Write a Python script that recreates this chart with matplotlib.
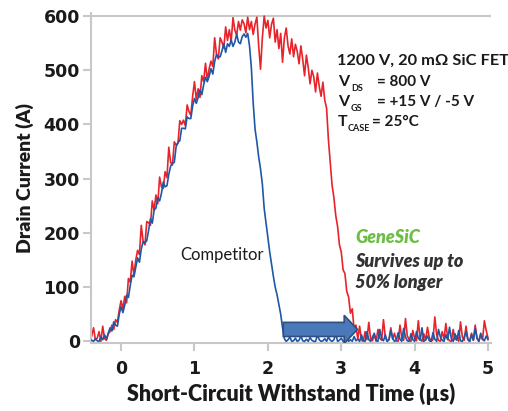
import matplotlib
matplotlib.use('agg')
import matplotlib.pyplot as plt
import numpy as np

# scope traces, one sample every 25 ns starting at -0.40 us (8 samples per row = 0.2 us)
t_start_us = -0.40
t_step_us = 0.025

genesic_amps = [
    10, 25, 3, 6, 18, 0, 28, 5,              # -0.4
    2, 14, 18, 30, 22, 40, 35, 58,           # -0.2
    75, 60, 83, 71, 116, 109, 148, 122,      # 0.0
    150, 168, 160, 214, 185, 178, 221, 219,  # 0.2
    214, 259, 242, 270, 254, 303, 285, 282,  # 0.4
    313, 302, 358, 330, 325, 368, 362, 365,  # 0.6
    407, 400, 408, 398, 436, 424, 417, 452,  # 0.8
    479, 446, 466, 450, 490, 479, 513, 482,  # 1.0
    503, 517, 507, 560, 530, 521, 560, 552,  # 1.2
    541, 580, 555, 575, 553, 597, 574, 565,  # 1.4
    590, 574, 593, 586, 569, 598, 575, 590,  # 1.6
    566, 585, 598, 545, 502, 560, 600, 578,  # 1.8
    592, 560, 585, 596, 552, 575, 540, 568,  # 2.0
    515, 560, 578, 545, 530, 558, 525, 548,  # 2.2
    535, 512, 545, 520, 490, 528, 505, 475,  # 2.4
    500, 488, 460, 495, 470, 452, 478, 445,  # 2.6
    430, 372, 330, 288, 265, 232, 212, 178,  # 2.8
    165, 132, 125, 92, 82, 52, 60, 22,       # 3.0
    30, 4, 28, 2, 0, 18, 3, 35,              # 3.2
    5, 1, 12, 0, 22, 6, 2, 40,               # 3.4
    8, 0, 3, 25, 4, 15, 1, 0,                # 3.6
    30, 6, 2, 42, 10, 3, 0, 20,              # 3.8
    5, 1, 38, 4, 0, 14, 2, 26,               # 4.0
    7, 0, 3, 45, 12, 2, 0, 18,               # 4.2
    4, 33, 6, 1, 0, 22, 3, 10,               # 4.4
    0, 36, 8, 2, 28, 4, 0, 15,               # 4.6
    2, 30, 5, 0, 12, 3, 38, 20,              # 4.8
    6,                                       # 5.0
]

competitor_amps = [
    2, 0, 5, 1, 0, 8, 3, 12,                 # -0.4
    4, 15, 25, 19, 36, 30, 28, 50,           # -0.2
    64, 53, 67, 85, 81, 103, 122, 119,       # 0.0
    136, 154, 146, 170, 184, 181, 186, 205,  # 0.2
    226, 218, 242, 246, 265, 259, 273, 294,  # 0.4
    285, 287, 308, 323, 329, 330, 359, 367,  # 0.6
    370, 393, 393, 392, 414, 411, 411, 434,  # 0.8
    448, 439, 450, 464, 455, 473, 487, 479,  # 1.0
    489, 503, 493, 516, 529, 524, 525, 536,  # 1.2
    549, 533, 549, 544, 556, 544, 552, 567,  # 1.4
    552, 549, 562, 567, 561, 568, 545, 505,  # 1.6
    440, 392, 368, 340, 318, 290, 245, 218,  # 1.8
    190, 165, 142, 120, 100, 86, 68, 50,     # 2.0
    25, 5, 0, 3, 8, 0, 1, 6,                 # 2.2
    0, 2, 10, 1, 0, 4, 0, 7,                 # 2.4
    2, 0, 0, 12, 3, 0, 1, 5,                 # 2.6
    0, 8, 2, 0, 3, 14, 0, 2,                 # 2.8
    6, 0, 1, 10, 0, 3, 0, 9,                 # 3.0
    1, 4, 0, 12, 2, 0, 18, 3,                # 3.2
    0, 8, 15, 2, 0, 22, 5, 1,                # 3.4
    12, 0, 3, 20, 6, 0, 2, 16,               # 3.6
    4, 0, 24, 8, 1, 0, 14, 3,                # 3.8
    0, 18, 6, 2, 25, 0, 3, 10,               # 4.0
    1, 0, 16, 4, 0, 22, 8, 2,                # 4.2
    0, 12, 3, 26, 5, 0, 14, 2,               # 4.4
    20, 1, 0, 8, 18, 3, 0, 12,               # 4.6
    2, 24, 6, 0, 15, 4, 1, 10,               # 4.8
    3,                                       # 5.0
]

x_ticks = [0, 1, 2, 3, 4, 5]
y_ticks = [0, 100, 200, 300, 400, 500, 600]

# arrow showing the extra withstand time (us, A)
arrow_start = 2.21
arrow_end = 3.22
arrow_level = 22

red = '#E8232A'
blue = '#1F57A6'
frame_gray = '#C8C8C8'
text_dark = '#1A1A1A'
label_font = 'Lato'

time_us = t_start_us + t_step_us * np.arange(len(genesic_amps))

fig = plt.figure(figsize=(5.08, 4.11), dpi=100)
ax = fig.add_axes([0.1791, 0.1655, 0.7874, 0.802])

ax.plot(time_us, genesic_amps, color=red, lw=1.2, zorder=2)
ax.plot(time_us, competitor_amps, color=blue, lw=1.2, zorder=3)

ax.set_xlim(-0.41, 5.04)
ax.set_ylim(-3, 605)
ax.axhline(600, color=frame_gray, lw=1.5, zorder=1)

for side in ['top', 'right']:
    ax.spines[side].set_visible(False)
for side in ['left', 'bottom']:
    ax.spines[side].set_color(frame_gray)
    ax.spines[side].set_linewidth(1.5)

ax.set_xticks(x_ticks)
ax.set_yticks(y_ticks)
ax.tick_params(axis='both', colors=frame_gray, length=6, width=1.5,
               labelcolor=text_dark, labelsize=12.5)
ax.tick_params(axis='x', pad=6)
ax.tick_params(axis='y', pad=2)
for lab in ax.get_xticklabels() + ax.get_yticklabels():
    lab.set_fontweight('bold')

ax.set_xlabel('Short-Circuit Withstand Time (µs)', family=label_font,
              fontweight='heavy', fontsize=15.5, color=text_dark, labelpad=4)
ax.set_ylabel('Drain Current (A)', family=label_font,
              fontweight='heavy', fontsize=14, color=text_dark, labelpad=7)

ax.arrow(arrow_start, arrow_level, arrow_end - arrow_start, 0,
         width=26, head_width=52, head_length=0.18, length_includes_head=True,
         facecolor='#4A78B8', edgecolor='#2E4F7F', lw=1.2, zorder=5)

# device / test conditions
cond_kw = dict(family=label_font, fontweight='bold', color=text_dark, va='baseline')
ax.text(2.94, 510, '1200 V, 20 mΩ SiC FET', fontsize=11.8, **cond_kw)
cond_rows = [('V', 'DS', '= 800 V', 471, 3.13, 3.49),
             ('V', 'GS', '= +15 V / -5 V', 434, 3.13, 3.49),
             ('T', 'CASE', '= 25°C', 397, 3.09, 3.42)]
for main, sub, rest, level, sub_x, rest_x in cond_rows:
    ax.text(2.956, level, main, fontsize=11.5, **cond_kw)
    ax.text(sub_x, level - 9, sub, fontsize=6.5, **cond_kw)
    ax.text(rest_x, level, rest, fontsize=11, **cond_kw)

ax.text(0.80, 150, 'Competitor', family=label_font, fontsize=12,
        color=text_dark, va='baseline')

note_kw = dict(family=label_font, fontweight='heavy', style='italic',
               fontsize=13, va='baseline')
ax.text(3.19, 182, 'GeneSiC', color='#6DBE45', **note_kw)
ax.text(3.19, 137, 'Survives up to', color='#333333', **note_kw)
ax.text(3.19, 99, '50% longer', color='#333333', **note_kw)

plt.savefig('out.png')
